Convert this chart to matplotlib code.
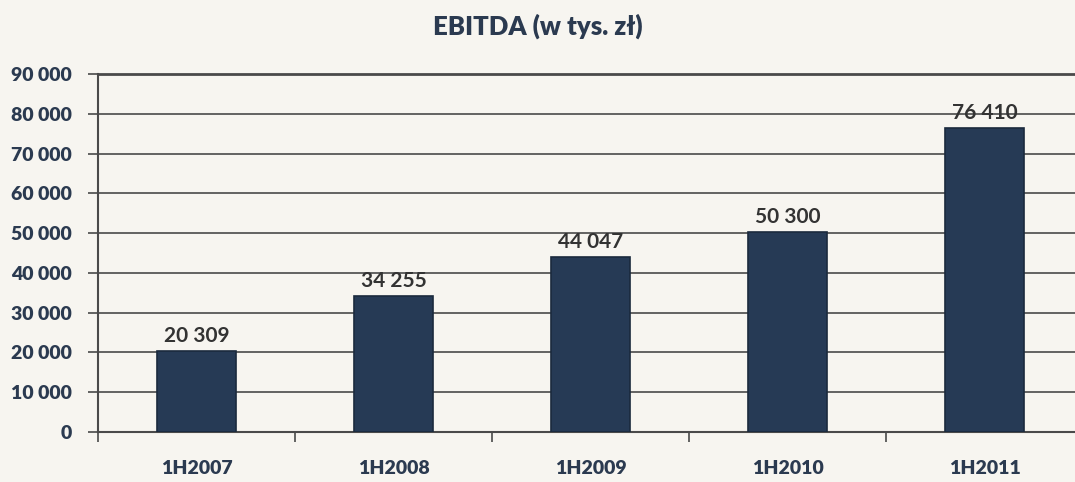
import numpy as np
import matplotlib.pyplot as plt
from matplotlib.ticker import FuncFormatter

categories = ['1H2007', '1H2008', '1H2009', '1H2010', '1H2011']
ebitda = [20309, 34255, 44047, 50300, 76410]
value_labels = ['20 309', '34 255', '44 047', '50 300', '76 410']
yticks = np.arange(0, 90001, 10000)

bg = '#f7f5f0'
navy = '#263a55'
text_navy = '#2b3a50'
grid_c = '#4a4a4a'

plt.rcParams['font.family'] = ['Lato', 'DejaVu Sans']

fig = plt.figure(figsize=(10.75, 4.82), dpi=100, facecolor=bg)
ax = fig.add_axes([98/1075, 1-432/482, 985/1075, (432-74)/482])
ax.set_facecolor(bg)

x = np.arange(len(categories))
ax.bar(x, ebitda, width=0.4, color=navy, edgecolor='#1b2a3d', linewidth=1.2, zorder=3)

for xi, v, lab in zip(x, ebitda, value_labels):
	ax.text(xi, v + 1200, lab, ha='center', va='bottom', fontsize=15,
		fontweight='bold', color='#333333', zorder=4)

ax.set_xlim(-0.5, len(categories) - 0.5)
ax.set_ylim(0, 90000)
ax.set_yticks(yticks)
ax.yaxis.set_major_formatter(FuncFormatter(lambda v, p: f'{int(v):,}'.replace(',', ' ')))
ax.grid(axis='y', color=grid_c, linewidth=1.2, zorder=1)

ax.set_xticks(np.arange(-0.5, len(categories), 1.0))
ax.set_xticklabels([])
ax.set_xticks(x, minor=True)
ax.set_xticklabels(categories, minor=True)
ax.tick_params(axis='x', which='major', length=7, width=1.2, color=grid_c, direction='out')
ax.tick_params(axis='x', which='minor', length=0, pad=20, labelsize=14, labelcolor=text_navy)
for t in ax.get_xticklabels(minor=True):
	t.set_fontweight('heavy')
ax.tick_params(axis='y', length=7, width=1.2, color=grid_c, pad=12, labelsize=14, labelcolor=text_navy)
for t in ax.get_yticklabels():
	t.set_fontweight('heavy')

ax.spines['right'].set_visible(False)
ax.spines['left'].set_color(grid_c)
ax.spines['left'].set_linewidth(1.5)
ax.spines['bottom'].set_color(grid_c)
ax.spines['bottom'].set_linewidth(1.5)
ax.spines['top'].set_color(grid_c)
ax.spines['top'].set_linewidth(2)

fig.text(0.5, 1-26/482, 'EBITDA (w tys. zł)', ha='center', va='center', fontsize=18.5,
	fontweight='heavy', color=text_navy)

fig.savefig('out.png', dpi=100, facecolor=bg)
